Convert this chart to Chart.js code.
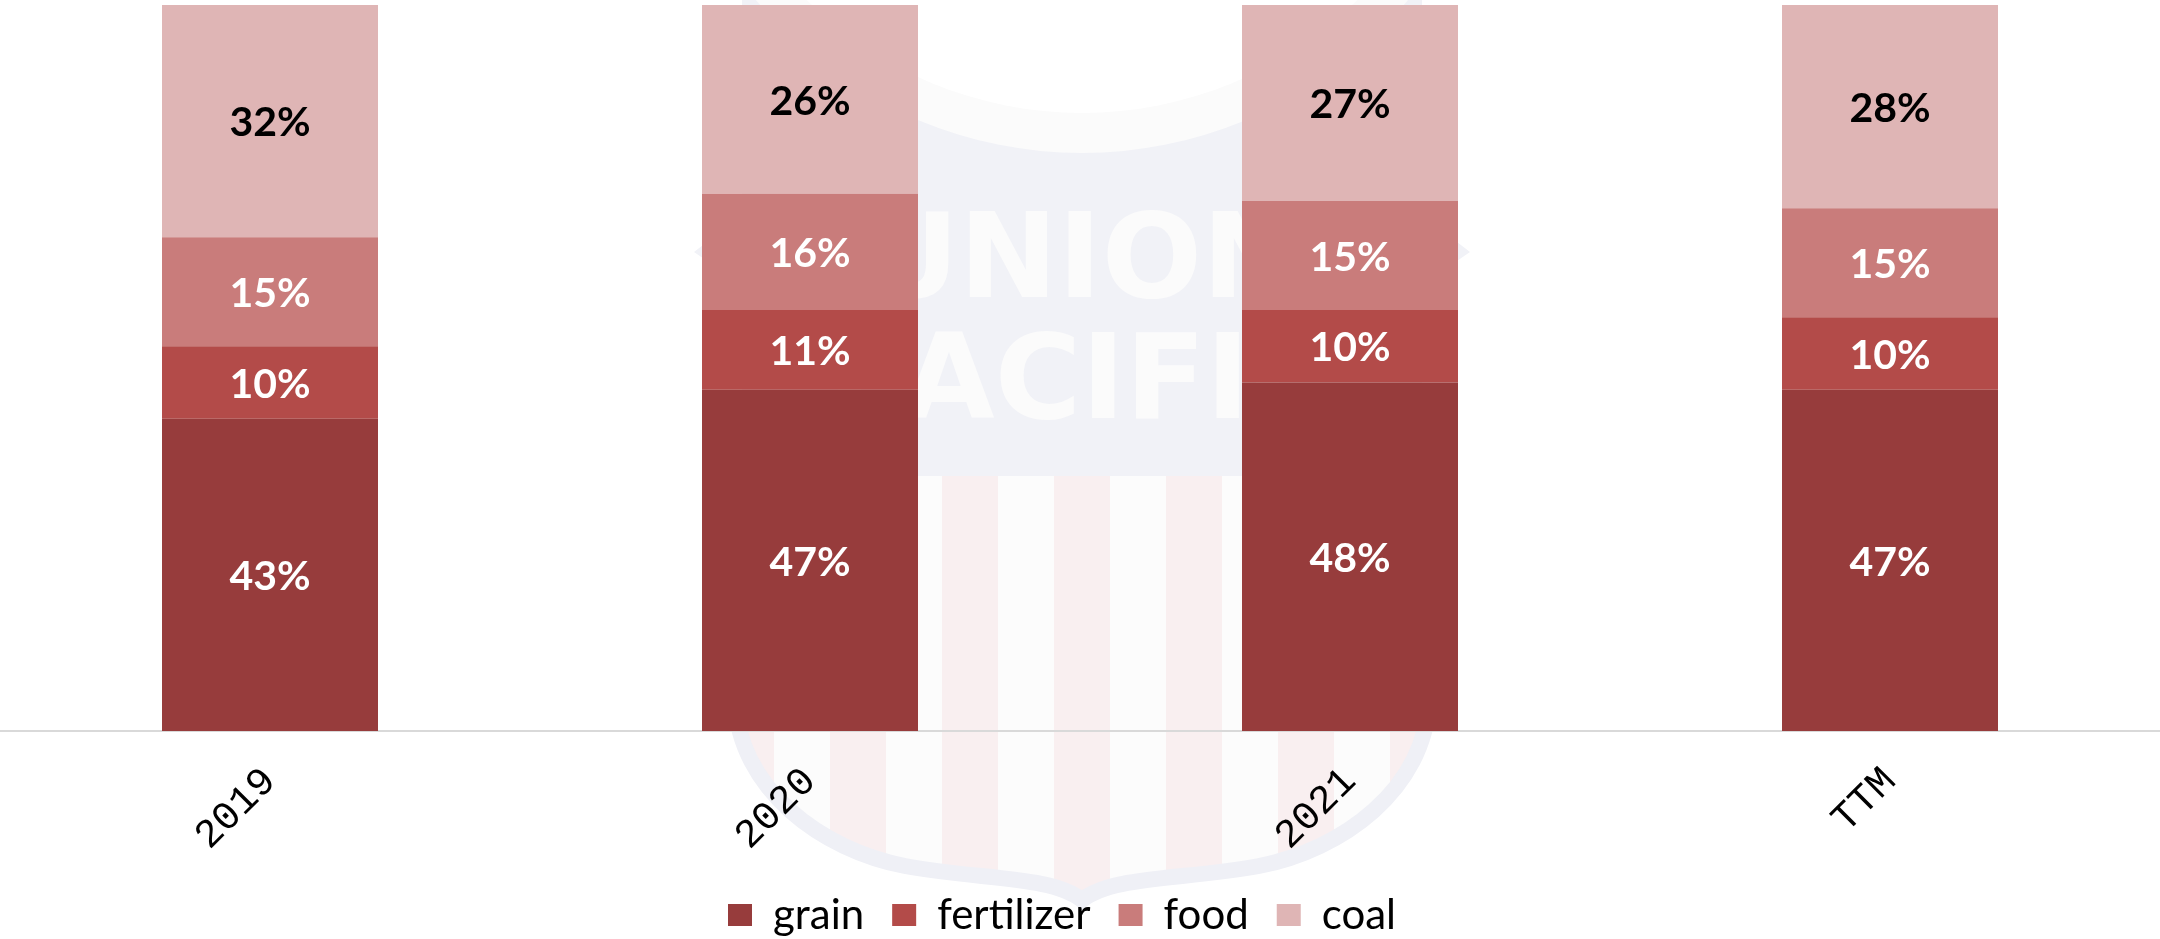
<!DOCTYPE html>
<html>
<head>
<meta charset="utf-8">
<title>Agricultural carloads mix</title>
<script src="https://cdn.jsdelivr.net/npm/chart.js@4.4.0/dist/chart.umd.min.js"></script>
<style>
  html, body { margin: 0; padding: 0; background: #fff; }
  #wrap { width: 2160px; height: 939px; position: relative; }
</style>
</head>
<body>
<div id="wrap"><canvas id="mixChart"></canvas></div>
<script>
// share of volume by commodity, in percent
const periods = ['2019', '2020', '2021', 'TTM'];
const grain = [43, 47, 48, 47];
const fertilizer = [10, 11, 10, 10];
const food = [15, 16, 15, 15];
const coal = [32, 26, 27, 28];
const seriesNames = ['grain', 'fertilizer', 'food', 'coal'];

const seriesColors = ['#973c3c', '#b34b49', '#c97c7b', '#dfb5b5'];
const valueColors = ['#fff', '#fff', '#fff', '#000'];

// faded company shield behind the bars
const shieldMark = {
  id: 'shieldMark',
  beforeDraw(chart) {
    const { ctx, chartArea } = chart;
    const cx = (chartArea.left + chartArea.right) / 2 + 2;
    const splitY = 476;
    ctx.save();

    // upper field with the name
    const upper = new Path2D();
    upper.moveTo(cx - 340, splitY);
    upper.lineTo(cx - 340, 285);
    upper.lineTo(cx - 388, 252);
    upper.lineTo(cx - 340, 215);
    upper.lineTo(cx - 340, 0);
    upper.lineTo(cx + 340, 0);
    upper.lineTo(cx + 340, 215);
    upper.lineTo(cx + 388, 252);
    upper.lineTo(cx + 340, 285);
    upper.lineTo(cx + 340, splitY);
    upper.closePath();
    ctx.fillStyle = '#f1f2f7';
    ctx.fill(upper);
    ctx.save();
    ctx.clip(upper);
    ctx.fillStyle = '#fbfbfb';
    ctx.beginPath();
    ctx.arc(cx, -271, 424, 0, Math.PI * 2);
    ctx.fill();
    ctx.fillStyle = '#fff';
    ctx.beginPath();
    ctx.arc(cx, -279, 392, 0, Math.PI * 2);
    ctx.fill();
    ctx.restore();

    ctx.fillStyle = '#fbfbfb';
    ctx.font = 'bold 118px "DejaVu Sans"';
    ctx.textAlign = 'center';
    ctx.textBaseline = 'alphabetic';
    ctx.fillText('UNION', cx, 297);
    ctx.fillText('PACIFIC', cx, 418);

    // striped lower field
    const edge = (p) => {
      p.bezierCurveTo(cx - 343, 790, cx - 260, 850, cx - 177, 866);
      p.bezierCurveTo(cx - 100, 880, cx - 30, 876, cx, 900);
      p.bezierCurveTo(cx + 30, 876, cx + 100, 880, cx + 177, 866);
      p.bezierCurveTo(cx + 260, 850, cx + 343, 790, cx + 347, 700);
    };
    const lower = new Path2D();
    lower.moveTo(cx - 347, splitY);
    lower.lineTo(cx - 347, 700);
    edge(lower);
    lower.lineTo(cx + 347, splitY);
    lower.closePath();
    ctx.save();
    ctx.clip(lower);
    ctx.fillStyle = '#fcfcfc';
    ctx.fillRect(cx - 360, splitY, 720, 440);
    ctx.fillStyle = '#f9eff0';
    for (let k = -3; k <= 3; k++) {
      ctx.fillRect(cx - 28 + k * 112, splitY, 56, 440);
    }
    ctx.restore();

    const rim = new Path2D();
    rim.moveTo(cx - 347, 600);
    rim.lineTo(cx - 347, 700);
    edge(rim);
    rim.lineTo(cx + 347, 600);
    ctx.strokeStyle = '#eff0f6';
    ctx.lineWidth = 16;
    ctx.stroke(rim);
    ctx.restore();
  }
};

// percentage written in the middle of every segment
const segmentLabels = {
  id: 'segmentLabels',
  afterDatasetsDraw(chart) {
    const ctx = chart.ctx;
    ctx.save();
    ctx.font = '700 41px Lato';
    ctx.textAlign = 'center';
    ctx.textBaseline = 'middle';
    chart.data.datasets.forEach((ds, i) => {
      ctx.fillStyle = valueColors[i];
      chart.getDatasetMeta(i).data.forEach((bar, j) => {
        const { x, y } = bar.getCenterPoint();
        ctx.fillText(ds.data[j] + '%', x, y + 2);
      });
    });
    ctx.restore();
  }
};

// legend row sits a little left of the canvas centre
const legendNudge = {
  id: 'legendNudge',
  afterLayout(chart) {
    chart.legend.left -= 18;
    chart.legend.right -= 18;
  }
};

new Chart(document.getElementById('mixChart'), {
  type: 'bar',
  data: {
    labels: periods,
    datasets: [grain, fertilizer, food, coal].map((values, i) => ({
      label: seriesNames[i],
      data: values,
      backgroundColor: seriesColors[i],
      borderWidth: 0,
      barPercentage: 0.5,
      categoryPercentage: 0.8
    }))
  },
  options: {
    responsive: true,
    maintainAspectRatio: false,
    animation: false,
    layout: { padding: { top: 5, bottom: -7 } },
    scales: {
      x: {
        stacked: true,
        grid: { display: false, drawTicks: false },
        border: { display: true, color: '#d9d9d9', width: 2 },
        ticks: {
          color: '#000',
          font: { family: 'Liberation Mono', size: 40 },
          minRotation: 45,
          maxRotation: 45,
          padding: 27
        },
        afterFit(scale) {
          scale.height = 135;
        }
      },
      y: { stacked: true, display: false, min: 0, max: 100 }
    },
    plugins: {
      legend: {
        position: 'bottom',
        labels: {
          boxWidth: 24,
          boxHeight: 22,
          padding: 28,
          color: '#000',
          font: { family: 'Lato', size: 42 }
        }
      },
      tooltip: { enabled: false }
    }
  },
  plugins: [shieldMark, segmentLabels, legendNudge]
});
</script>
</body>
</html>
